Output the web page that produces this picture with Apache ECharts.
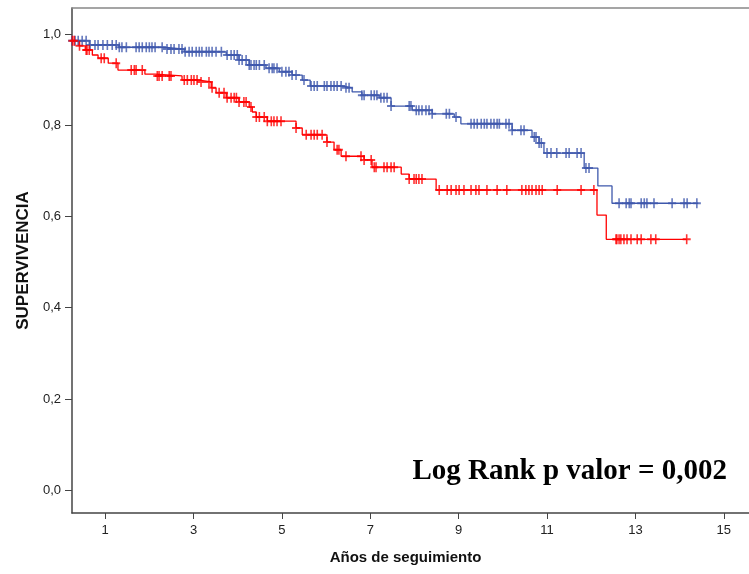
<!DOCTYPE html>
<html><head><meta charset="utf-8">
<script src="https://cdn.jsdelivr.net/npm/echarts@6/dist/echarts.min.js"></script>
<style>html,body{margin:0;padding:0;background:#fff}#c{width:749px;height:574px}</style>
</head><body><div id="c"></div>
<script>
// Kaplan-Meier data (years, survival after event)
const blueStart = 0.985;
const blueEventTimes = [0.64,1.32,2.33,2.79,3.74,4.03,4.26,4.64,4.94,5.23,5.46,5.64,6.36,6.59,6.81,7.20,7.47,7.95,8.40,8.90,9.05,10.21,10.66,10.82,10.93,11.84,12.15,12.47];
const blueEventSurv  = [0.976,0.971,0.967,0.961,0.954,0.943,0.932,0.925,0.917,0.910,0.899,0.886,0.882,0.873,0.866,0.860,0.842,0.833,0.825,0.818,0.803,0.789,0.774,0.761,0.739,0.706,0.667,0.629];
const blueEnd = 14.42;
const blueCensored = [0.25,0.32,0.39,0.48,0.57,0.66,0.77,0.84,0.95,1.05,1.16,1.25,1.32,1.38,1.48,1.70,1.77,1.84,1.93,2.00,2.06,2.13,2.29,2.40,2.49,2.56,2.67,2.74,2.81,2.90,2.97,3.06,3.13,3.19,3.29,3.35,3.42,3.51,3.63,3.76,3.85,3.92,3.99,4.03,4.10,4.19,4.26,4.30,4.37,4.42,4.49,4.60,4.71,4.78,4.82,4.89,5.00,5.09,5.16,5.23,5.32,5.50,5.66,5.73,5.80,5.96,6.02,6.11,6.18,6.25,6.34,6.45,6.52,6.81,6.86,7.02,7.09,7.15,7.24,7.31,7.38,7.47,7.88,7.92,8.04,8.10,8.17,8.26,8.33,8.40,8.72,8.79,8.94,9.28,9.35,9.42,9.51,9.58,9.64,9.73,9.80,9.87,9.92,10.07,10.14,10.21,10.41,10.48,10.71,10.75,10.82,10.87,11.00,11.09,11.22,11.43,11.50,11.68,11.77,11.88,11.95,12.63,12.79,12.86,12.90,13.13,13.20,13.26,13.42,13.83,14.10,14.17,14.39];

const redStart = 0.985;
const redEventTimes = [0.41,0.55,0.71,0.84,1.07,1.29,1.90,2.13,2.74,3.13,3.40,3.51,3.74,4.03,4.26,4.33,4.42,4.67,5.32,5.46,6.02,6.18,6.34,6.86,7.04,7.70,7.88,8.49,12.13,12.34];
const redEventSurv  = [0.974,0.965,0.954,0.947,0.936,0.921,0.912,0.908,0.899,0.895,0.882,0.871,0.860,0.851,0.840,0.829,0.818,0.809,0.794,0.779,0.763,0.746,0.732,0.724,0.708,0.693,0.682,0.658,0.603,0.550];
const redEnd = 14.16;
const redCensored = [0.26,0.30,0.42,0.57,0.59,0.64,0.91,0.98,1.25,1.59,1.66,1.70,1.84,2.18,2.22,2.29,2.45,2.49,2.79,2.86,2.95,3.01,3.08,3.17,3.35,3.42,3.58,3.69,3.76,3.85,3.92,3.97,4.03,4.14,4.19,4.30,4.42,4.49,4.60,4.67,4.76,4.82,4.89,4.98,5.32,5.55,5.66,5.73,5.80,5.91,6.02,6.25,6.29,6.45,6.79,6.86,7.02,7.09,7.13,7.31,7.38,7.47,7.54,7.88,7.99,8.04,8.10,8.17,8.56,8.74,8.83,8.94,9.01,9.12,9.28,9.39,9.46,9.64,9.87,10.09,10.43,10.52,10.59,10.66,10.75,10.82,10.89,11.23,11.77,12.06,12.56,12.58,12.63,12.67,12.74,12.81,12.90,13.04,13.13,13.35,13.46,14.16];

const xTicks = [1,3,5,7,9,11,13,15];
const yTicks = [0,0.2,0.4,0.6,0.8,1.0];
const xMinT = 0.25;

function stepData(start, times, surv, end) {
  const d = [[xMinT, start]];
  for (let i = 0; i < times.length; i++) d.push([times[i], surv[i]]);
  d.push([end, surv[surv.length - 1]]);
  return d;
}
function survAt(t, start, times, surv) {
  let s = start;
  for (let i = 0; i < times.length; i++) { if (times[i] <= t) s = surv[i]; }
  return s;
}
function censorData(cens, start, times, surv) {
  return cens.map(t => [t, survAt(t, start, times, surv)]);
}

const BLUE = '#3E58AC', RED = '#FF0000';
const plus = 'path://M4,0H6V4H10V6H6V10H4V6H0V4H4Z';

const chart = echarts.init(document.getElementById('c'));
chart.setOption({
  animation: false,
  backgroundColor: '#fff',
  grid: { left: 72, right: 0, top: 8, bottom: 61, containLabel: false },
  xAxis: [{
    type: 'value', min: 0.25, max: 15.57,
    name: 'Años de seguimiento', nameLocation: 'middle', nameGap: 37,
    nameTextStyle: { fontFamily: 'Liberation Sans', fontWeight: 'bold', fontSize: 15, color: '#111', padding: [0, 10, 0, 0] },
    axisLine: { show: true, onZero: false, lineStyle: { color: '#444', width: 1.5 } },
    axisTick: { show: true, length: 6, lineStyle: { color: '#444' }, customValues: xTicks },
    axisLabel: { customValues: xTicks, fontFamily: 'Liberation Sans', fontSize: 13, color: '#222', margin: 11 },
    splitLine: { show: false }
  }, {
    type: 'value', position: 'top', min: 0.25, max: 15.57,
    axisLine: { show: true, onZero: false, lineStyle: { color: '#888', width: 1.5 } },
    axisTick: { show: false }, axisLabel: { show: false }, splitLine: { show: false }
  }],
  yAxis: {
    type: 'value', min: -0.050, max: 1.057,
    name: 'SUPERVIVENCIA', nameLocation: 'middle', nameGap: 40, nameRotate: 90,
    nameTextStyle: { fontFamily: 'Liberation Sans', fontWeight: 'bold', fontSize: 17, color: '#111' },
    axisLine: { show: true, onZero: false, lineStyle: { color: '#444', width: 1.5 } },
    axisTick: { show: true, length: 7, lineStyle: { color: '#444' }, customValues: yTicks },
    axisLabel: { customValues: yTicks, fontFamily: 'Liberation Sans', fontSize: 13, color: '#222', margin: 11,
      formatter: v => v.toFixed(1).replace('.', ',') },
    splitLine: { show: false }
  },
  series: [
    { type: 'line', step: 'end', symbol: 'none', data: stepData(blueStart, blueEventTimes, blueEventSurv, blueEnd),
      lineStyle: { color: BLUE, width: 1.3 }, z: 3 },
    { type: 'line', step: 'end', symbol: 'none', data: stepData(redStart, redEventTimes, redEventSurv, redEnd),
      lineStyle: { color: RED, width: 1.3 }, z: 3 },
    { type: 'scatter', symbol: plus, symbolSize: [8, 10], data: censorData(blueCensored, blueStart, blueEventTimes, blueEventSurv),
      itemStyle: { color: BLUE }, z: 4 },
    { type: 'scatter', symbol: plus, symbolSize: [8, 10], data: censorData(redCensored, redStart, redEventTimes, redEventSurv),
      itemStyle: { color: RED }, z: 4 }
  ],
  graphic: [{
    type: 'text', right: 22, top: 457,
    style: { text: 'Log Rank p valor = 0,002', font: 'bold 29px "Liberation Serif"', fill: '#000' }
  }]
});
</script></body></html>
